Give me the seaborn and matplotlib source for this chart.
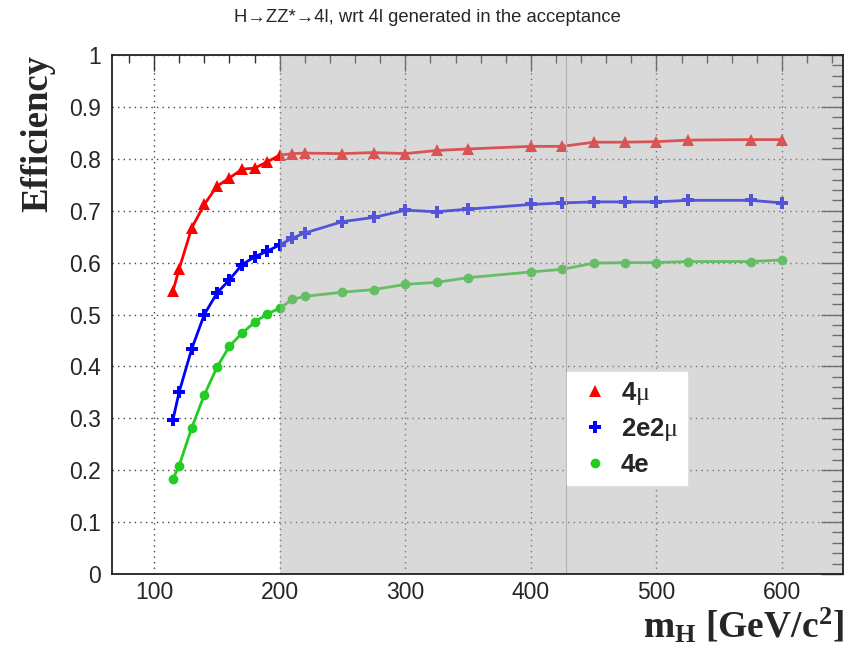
import matplotlib
matplotlib.use("Agg")
import matplotlib.pyplot as plt
import seaborn as sns
import numpy as np
import pandas as pd
from matplotlib.ticker import MultipleLocator
from matplotlib import font_manager

# ---- data ----
mass = [115, 120, 130, 140, 150, 160, 170, 180, 190, 200, 210, 220, 250, 275,
        300, 325, 350, 400, 425, 450, 475, 500, 525, 575, 600]
eff_4mu = [0.545, 0.588, 0.667, 0.712, 0.747, 0.763, 0.780, 0.782, 0.794, 0.807,
           0.810, 0.811, 0.810, 0.812, 0.810, 0.816, 0.819, 0.824, 0.824, 0.832,
           0.832, 0.833, 0.836, 0.837, 0.837]
eff_2e2mu = [0.297, 0.351, 0.434, 0.500, 0.541, 0.567, 0.596, 0.611, 0.622, 0.634,
             0.647, 0.657, 0.679, 0.687, 0.701, 0.698, 0.703, 0.712, 0.715, 0.717,
             0.717, 0.717, 0.720, 0.720, 0.715]
eff_4e = [0.183, 0.209, 0.282, 0.345, 0.398, 0.439, 0.464, 0.485, 0.501, 0.512,
          0.529, 0.535, 0.543, 0.548, 0.558, 0.562, 0.571, 0.582, 0.587, 0.599,
          0.600, 0.600, 0.602, 0.602, 0.605]
labels = ["4$\\mu$", "2e2$\\mu$", "4e"]
title = "H→ZZ*→4l, wrt 4l generated in the acceptance"

sns.set_theme(style="white")
names = {f.name for f in font_manager.fontManager.ttflist}
sans = "Liberation Sans" if "Liberation Sans" in names else "DejaVu Sans"
serif = "Liberation Serif" if "Liberation Serif" in names else "DejaVu Serif"
plt.rcParams["font.family"] = [sans, "DejaVu Sans"]
plt.rcParams["mathtext.fontset"] = "custom"
plt.rcParams["mathtext.rm"] = f"{serif}:bold"
plt.rcParams["mathtext.bf"] = f"{serif}:bold"
plt.rcParams["mathtext.it"] = f"{serif}"

fig = plt.figure(figsize=(8.51, 6.48), dpi=100)
ax = fig.add_axes([112 / 851, 1 - 574 / 648, (843 - 112) / 851, (574 - 55) / 648])

series = [
    (eff_4mu, "#ff0000", "^", 8),
    (eff_2e2mu, "#0000ff", "P", 9),
    (eff_4e, "#22cc22", "o", 7),
]
for (vals, col, mk, ms), lab in zip(series, labels):
    df = pd.DataFrame({"m": mass, "eff": vals})
    sns.lineplot(data=df, x="m", y="eff", ax=ax, color=col, marker=mk,
                 markersize=ms, markeredgewidth=0, linewidth=2, label=lab,
                 zorder=2)

ax.set_xlim(66.5, 648.5)
ax.set_ylim(0, 1)

# shaded region (semi-transparent over the curves)
ax.axvspan(200, 648.5, color=(176 / 255, 176 / 255, 176 / 255), alpha=0.48,
           zorder=3, lw=0)
ax.axvline(428, color="#b0b0b0", lw=0.8, zorder=3)

ax.xaxis.set_major_locator(MultipleLocator(100))
ax.xaxis.set_minor_locator(MultipleLocator(20))
ax.yaxis.set_major_locator(MultipleLocator(0.1))
ax.yaxis.set_minor_locator(MultipleLocator(0.02))
ax.set_yticks(np.arange(0, 1.01, 0.1))
ax.set_yticklabels(["0", "0.1", "0.2", "0.3", "0.4", "0.5", "0.6", "0.7",
                    "0.8", "0.9", "1"])

ax.grid(True, which="major", color="#444444", linestyle=(0, (1, 3)),
        linewidth=1.0, zorder=1)
ax.set_axisbelow(True)

ax.tick_params(axis="both", which="both", direction="in", top=True,
               right=True, color="#333333", width=1.0)
ax.tick_params(axis="x", which="major", length=11.2, labelsize=16.5, pad=5)
ax.tick_params(axis="x", which="minor", length=5.6)
ax.tick_params(axis="y", which="major", length=15.8, labelsize=16.5, pad=8)
ax.tick_params(axis="y", which="minor", length=7.9)
for sp in ax.spines.values():
    sp.set_color("#222222")
    sp.set_linewidth(1.3)
    sp.set_zorder(6)

ax.set_xlabel("")
ax.set_ylabel("")

fig.text(427 / 851, 1 - 18 / 648, title, ha="center", va="center",
         fontsize=13.3, family=[sans, "DejaVu Sans"])
fig.text(38 / 851, 1 - 55 / 648, "Efficiency", rotation=90, ha="center",
         va="top", fontsize=26.5, family=serif, fontweight="bold")
fig.text(844 / 851, 1 - 638 / 648, "m$_{\\mathbf{H}}$ [GeV/c$^{\\mathbf{2}}$]",
         ha="right", va="baseline", fontsize=27, family=serif,
         fontweight="bold")

leg = ax.legend(loc="upper left", bbox_to_anchor=(567 / 851, 1 - 372 / 648),
                bbox_transform=fig.transFigure, frameon=True, fancybox=False,
                framealpha=1, edgecolor="white", facecolor="white",
                prop={"family": sans, "weight": "bold", "size": 18.5},
                handlelength=1.55, handletextpad=0.25, borderpad=0.3,
                labelspacing=0.38, borderaxespad=0)
for h in leg.legend_handles:
    h.set_linestyle("none")
leg.set_zorder(7)

fig.savefig("out.png", dpi=100)
